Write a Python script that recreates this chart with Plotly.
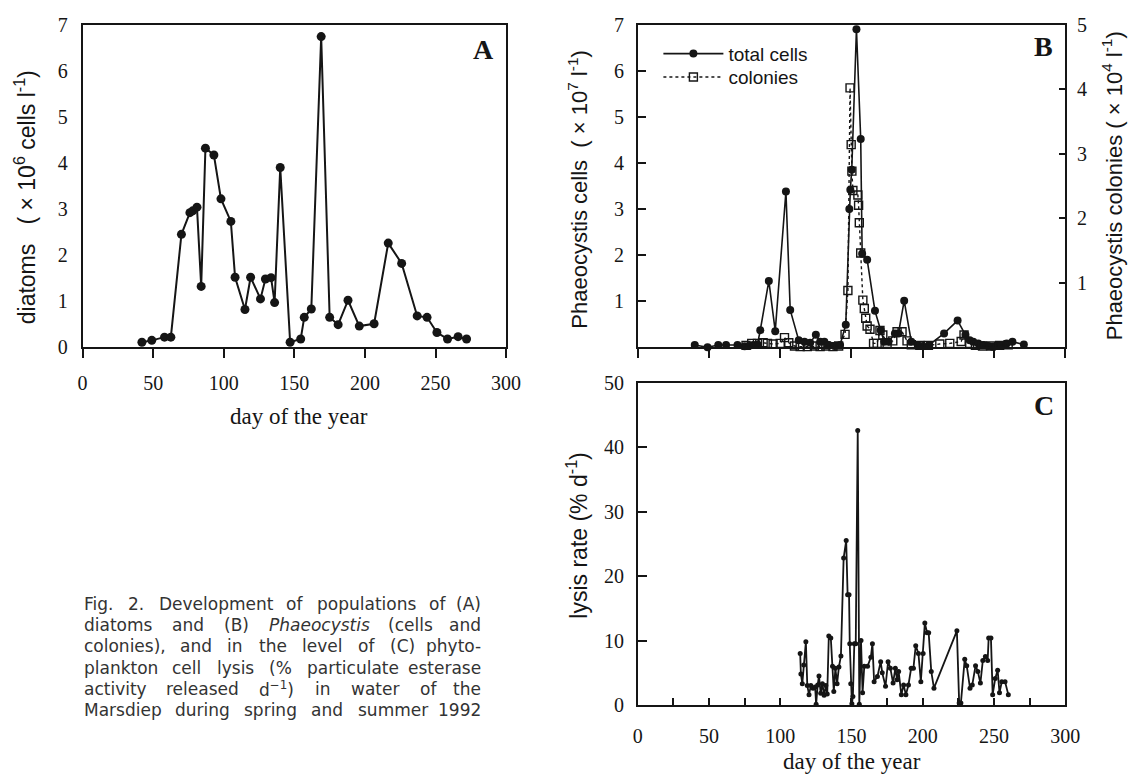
import re
import plotly.graph_objects as go

# ---------------- data ----------------
# Panel A: diatoms (x10^6 cells/l)
days_a = [42, 49, 58, 62.5, 70, 76, 78, 81, 84, 87, 93, 98, 105, 108, 115, 119, 126, 129.5, 133.5, 136,
          140, 147, 154.5, 157, 162, 169, 175, 181, 188, 196, 206.5, 216.5, 226, 237, 244, 251, 258.5, 266, 272]
diatoms = [0.11, 0.15, 0.22, 0.22, 2.45, 2.92, 2.96, 3.04, 1.32, 4.32, 4.17, 3.22, 2.73, 1.52, 0.82, 1.52, 1.05, 1.48, 1.51, 0.97,
           3.9, 0.11, 0.18, 0.65, 0.83, 6.74, 0.65, 0.49, 1.02, 0.46, 0.51, 2.26, 1.82, 0.68, 0.65, 0.32, 0.18, 0.23, 0.18]

# Panel B: Phaeocystis total cells (x10^7 /l)
days_b_cells = [40, 49, 56.5, 62, 70, 75, 78, 81, 84, 86, 92, 96.5, 104, 107, 113, 117, 121, 125, 128, 131,
                134, 138, 142, 146, 148.5, 149.2, 150.2, 153.5, 156.5, 157.5, 161, 166.5, 170.5, 173, 176,
                180.5, 183, 187, 192, 196.5, 200, 204.5, 215, 224.5, 230, 233, 235.5, 239, 242.5, 246,
                249, 252, 255, 259, 263, 271]
cells = [0.05, 0.0, 0.05, 0.05, 0.05, 0.02, 0.03, 0.05, 0.06, 0.37, 1.44, 0.35, 3.38, 0.81, 0.15, 0.12, 0.1, 0.27, 0.12, 0.12,
         0.05, 0.03, 0.05, 0.49, 3.0, 3.42, 3.85, 6.9, 4.52, 2.03, 1.9, 0.79, 0.37, 0.12, 0.12,
         0.3, 0.3, 1.01, 0.12, 0.05, 0.03, 0.05, 0.3, 0.58, 0.27, 0.15, 0.12, 0.08, 0.05, 0.03,
         0.01, 0.04, 0.05, 0.08, 0.12, 0.06]

# Panel B: Phaeocystis colonies (x10^4 /l)
days_b_col = [76, 80, 84, 88, 91, 95, 100, 103, 106, 110, 114, 119, 124, 128, 132, 137, 141, 145.5, 147.5, 149,
              149.8, 150.3, 151, 154.5, 155, 155.5, 156.5, 158, 159, 160, 161, 163, 165.5, 168, 170,
              172, 175, 179, 182, 185.5, 189, 192, 198, 204, 212, 219, 227, 229, 233, 237, 242, 248, 254, 260]
colonies = [0.03, 0.06, 0.06, 0.07, 0.06, 0.05, 0.06, 0.15, 0.07, 0.02, 0.01, 0.01, 0.02, 0.01, 0.02, 0.01, 0.02, 0.2, 0.88, 4.02,
            3.14, 2.73, 2.43, 2.36, 2.2, 1.93, 1.46, 0.73, 0.6, 0.45, 0.33, 0.28, 0.06, 0.06, 0.26,
            0.19, 0.06, 0.1, 0.24, 0.24, 0.1, 0.04, 0.03, 0.03, 0.05, 0.06, 0.09, 0.19, 0.06, 0.03, 0.02, 0.02, 0.03, 0.04]

# Panel C: lysis rate (% per day)
days_c = [114, 114.5, 115.5, 116.5, 118, 119, 120.2, 121.5, 123, 124.5, 125.2, 126.3, 127.2, 128.4, 129.6, 130.8, 132, 133,
          134.1, 135.5, 136.7, 137.6, 138.7, 139.9, 141.2, 142.6, 144.5, 146.3, 147.3, 148.3, 148.8, 149.5, 150.3, 151,
          152, 153, 154.4, 155.5, 156.7, 157.8, 159, 161.3, 163.6, 164.7, 165.9, 168.2, 170.5, 171.6, 173.9, 175.7,
          177.3, 179.2, 180.8, 182, 183.1, 185, 186.6, 188.2, 190, 191.9, 193.5, 195.1, 197, 198.7, 200.3, 201.5,
          203.1, 204.2, 206, 207.9, 224, 225.6, 226.8, 229.5, 230.9, 233.2, 234.8, 237.1, 238.7, 240.5, 242.2, 244,
          245.6, 246.3, 247.9, 249.1, 250.9, 252.6, 253.9, 255.5, 257.8, 260.1]
lysis = [8.0, 4.8, 3.3, 6.2, 9.8, 3.0, 1.6, 3.0, 2.6, 2.8, 0.1, 3.1, 4.5, 1.8, 3.3, 1.5, 3.0, 1.7,
         10.7, 10.4, 6.0, 2.1, 5.7, 3.3, 5.9, 7.6, 22.8, 25.5, 17.1, 17.1, 9.5, 3.3, 0.2, 1.3,
         9.5, 9.5, 42.6, 0.1, 10.0, 1.9, 6.0, 6.0, 7.4, 9.5, 3.6, 4.4, 6.7, 5.0, 2.9, 6.7,
         5.7, 3.4, 5.7, 3.9, 5.2, 1.6, 3.1, 1.6, 3.1, 5.7, 5.7, 9.2, 8.0, 3.6, 8.0, 12.7,
         11.2, 11.2, 5.2, 2.6, 11.5, 0.3, 0.3, 7.1, 6.1, 2.6, 3.1, 6.1, 5.2, 3.4, 6.9, 7.5,
         6.9, 10.4, 10.4, 1.6, 4.1, 5.4, 1.9, 3.6, 3.6, 1.6]

assert len(days_a) == len(diatoms)
assert len(days_b_cells) == len(cells)
assert len(days_b_col) == len(colonies)
assert len(days_c) == len(lysis)

caption_lines = [
    ["Fig.", "2.", "Development", "of", "populations", "of", "(A)"],
    ["diatoms", "and", "(B)", "<i>Phaeocystis</i>", "(cells", "and"],
    ["colonies),", "and", "in", "the", "level", "of", "(C)", "phyto-"],
    ["plankton", "cell", "lysis", "(%", "particulate", "esterase"],
    ["activity", "released", "d<sup>\u22121</sup>)", "in", "water", "of", "the"],
    ["Marsdiep", "during", "spring", "and", "summer", "1992"],
]

# ---------------- layout helpers ----------------
W, H = 1146, 783
INK = "#151515"
SERIF = "Liberation Serif"
SANS = "Liberation Sans"


def px(x):
    return x / W


def py(y):
    return 1 - y / H


CW = {' ': .318, 'a': .613, 'b': .635, 'c': .55, 'd': .635, 'e': .615, 'f': .352, 'g': .635, 'h': .634,
      'i': .278, 'j': .278, 'k': .579, 'l': .278, 'm': .974, 'n': .634, 'o': .612, 'p': .635, 'q': .635,
      'r': .411, 's': .521, 't': .392, 'u': .634, 'v': .592, 'w': .818, 'x': .592, 'y': .592, 'z': .525,
      'A': .684, 'B': .686, 'C': .698, 'D': .77, 'F': .575, 'M': .863, 'P': .603, '(': .39, ')': .39,
      '.': .318, ',': .318, '%': .95, '-': .361, '\u2212': .838}


def est_width(html, size):
    w = 0.0
    sup = False
    for tok in re.split(r'(<[^>]+>)', html):
        if tok.startswith('<'):
            if tok == '<sup>':
                sup = True
            elif tok == '</sup>':
                sup = False
            continue
        for ch in tok:
            w += CW.get(ch, .636 if ch.isdigit() else .6) * (0.7 if sup else 1.0)
    return w * size


fig = go.Figure()

fig.add_trace(go.Scatter(x=days_a, y=diatoms, xaxis="x", yaxis="y", mode="lines+markers",
                         line=dict(color=INK, width=2), marker=dict(size=9, color=INK),
                         showlegend=False, cliponaxis=False))
fig.add_trace(go.Scatter(x=days_b_cells, y=cells, xaxis="x2", yaxis="y2", mode="lines+markers",
                         name="total cells", line=dict(color=INK, width=1.6), legend="legend",
                         marker=dict(size=8, color=INK), cliponaxis=False))
fig.add_trace(go.Scatter(x=days_b_col, y=colonies, xaxis="x2", yaxis="y3", mode="lines+markers",
                         name="colonies", line=dict(color=INK, width=1.4, dash="dot"), legend="legend2",
                         marker=dict(symbol="square-open", size=8, color=INK, line=dict(width=1.4, color=INK)),
                         cliponaxis=False))
fig.add_trace(go.Scatter(x=days_c, y=lysis, xaxis="x3", yaxis="y4", mode="lines+markers",
                         line=dict(color=INK, width=1.8), marker=dict(size=5, color=INK),
                         showlegend=False, cliponaxis=False))

base = dict(showgrid=False, zeroline=False, showline=True, linecolor=INK, linewidth=1.5, mirror=True,
            tickcolor=INK, tickwidth=1.5, tickfont=dict(family=SERIF, size=20, color=INK))

A_X = [px(79), px(510)]
TOP_Y = [py(346), py(14)]
B_X = [px(644), px(1079)]
C_X = [px(644), px(1079)]
C_Y = [py(714), py(382.5)]

leg = dict(xanchor="left", yanchor="middle", bgcolor="rgba(0,0,0,0)", borderwidth=0,
           font=dict(family=SANS, size=19, color=INK), itemwidth=60)

fig.update_layout(
    width=W, height=H, margin=dict(l=0, r=0, t=0, b=0),
    paper_bgcolor="white", plot_bgcolor="rgba(0,0,0,0)",
    xaxis=dict(base, domain=A_X, anchor="y", range=[0, 300], dtick=50, ticks="outside", ticklen=9,
               ticklabelstandoff=8),
    yaxis=dict(base, domain=TOP_Y, anchor="x", range=[0, 7], dtick=1, ticks="", ticklabelstandoff=9),
    xaxis2=dict(base, domain=B_X, anchor="y2", range=[0, 300], dtick=50, ticks="outside", ticklen=9,
                showticklabels=False),
    yaxis2=dict(base, domain=TOP_Y, anchor="x2", range=[0, 7], tickvals=[1, 2, 3, 4, 5, 6, 7],
                ticks="inside", ticklen=8, ticklabelstandoff=8),
    yaxis3=dict(base, domain=TOP_Y, anchor="x2", overlaying="y2", side="right", range=[0, 5],
                tickvals=[1, 2, 3, 4, 5], ticks="inside", ticklen=6, ticklabelstandoff=6),
    xaxis3=dict(base, domain=C_X, anchor="y4", range=[0, 300], dtick=50, ticks="inside", ticklen=7,
                minor=dict(dtick=25, ticks="inside", ticklen=7, tickcolor=INK, tickwidth=1.5),
                ticklabelstandoff=12),
    yaxis4=dict(base, domain=C_Y, anchor="x3", range=[0, 50], dtick=10, ticks="inside", ticklen=9,
                ticklabelstandoff=8),
    legend=dict(leg, x=px(665), y=py(44)),
    legend2=dict(leg, x=px(665), y=py(68)),
)

ann = []


def text_ann(x, y, text, size, family, angle=0, bold=False, xanchor="center", color=INK):
    ann.append(dict(x=px(x), y=py(y), xref="paper", yref="paper", text=("<b>%s</b>" % text) if bold else text,
                    showarrow=False, textangle=angle, xanchor=xanchor, yanchor="middle",
                    font=dict(family=family, size=size, color=color)))


# panel letters
text_ann(487, 40, "A", 28, SERIF, bold=True)
text_ann(1057, 37, "B", 28, SERIF, bold=True)
text_ann(1057, 406, "C", 28, SERIF, bold=True)

# axis titles
NB = "\u00a0"
text_ann(20, 192, "diatoms" + NB * 3 + "(" + NB + "\u00d7" + NB + "10<sup>6</sup> cells l<sup>-1</sup>)", 23, SANS, angle=-90)
text_ann(299, 417, "day of the year", 23, SERIF)
text_ann(583, 184, "Phaeocystis cells" + NB * 2 + "(" + NB + "\u00d7" + NB + "10<sup>7</sup> l<sup>-1</sup>)", 22, SANS, angle=-90)
text_ann(1127, 180, "Phaeocystis colonies" + NB + "(" + NB + "\u00d7" + NB + "10<sup>4</sup> l<sup>-1</sup>)", 22, SANS, angle=-90)
text_ann(582, 540, "lysis rate (% d<sup>-1</sup>)", 23, SANS, angle=-90)
text_ann(862, 772, "day of the year", 23, SERIF)

# caption, justified word by word
CAP_L, CAP_R, CAP_Y0, CAP_DY, CAP_SIZE = 78, 486, 610, 21.9, 17
CAP_FONT = "DejaVu Sans"
for i, words in enumerate(caption_lines):
    yline = CAP_Y0 + i * CAP_DY
    widths = [est_width(w, CAP_SIZE) for w in words]
    gap = (CAP_R - CAP_L - sum(widths)) / (len(words) - 1)
    xcur = CAP_L
    for j, (w, wd) in enumerate(zip(words, widths)):
        if j == len(words) - 1:
            text_ann(CAP_R, yline, w, CAP_SIZE, CAP_FONT, xanchor="right", color="#333333")
        else:
            text_ann(xcur, yline, w, CAP_SIZE, CAP_FONT, xanchor="left", color="#333333")
        xcur += wd + gap

fig.update_layout(annotations=ann)
fig.write_html(
    "out.html",
    config={"displayModeBar": False},
    post_script="document.body.style.margin='0px';document.documentElement.style.overflow='hidden';"
                "document.body.style.overflow='hidden';",
)
